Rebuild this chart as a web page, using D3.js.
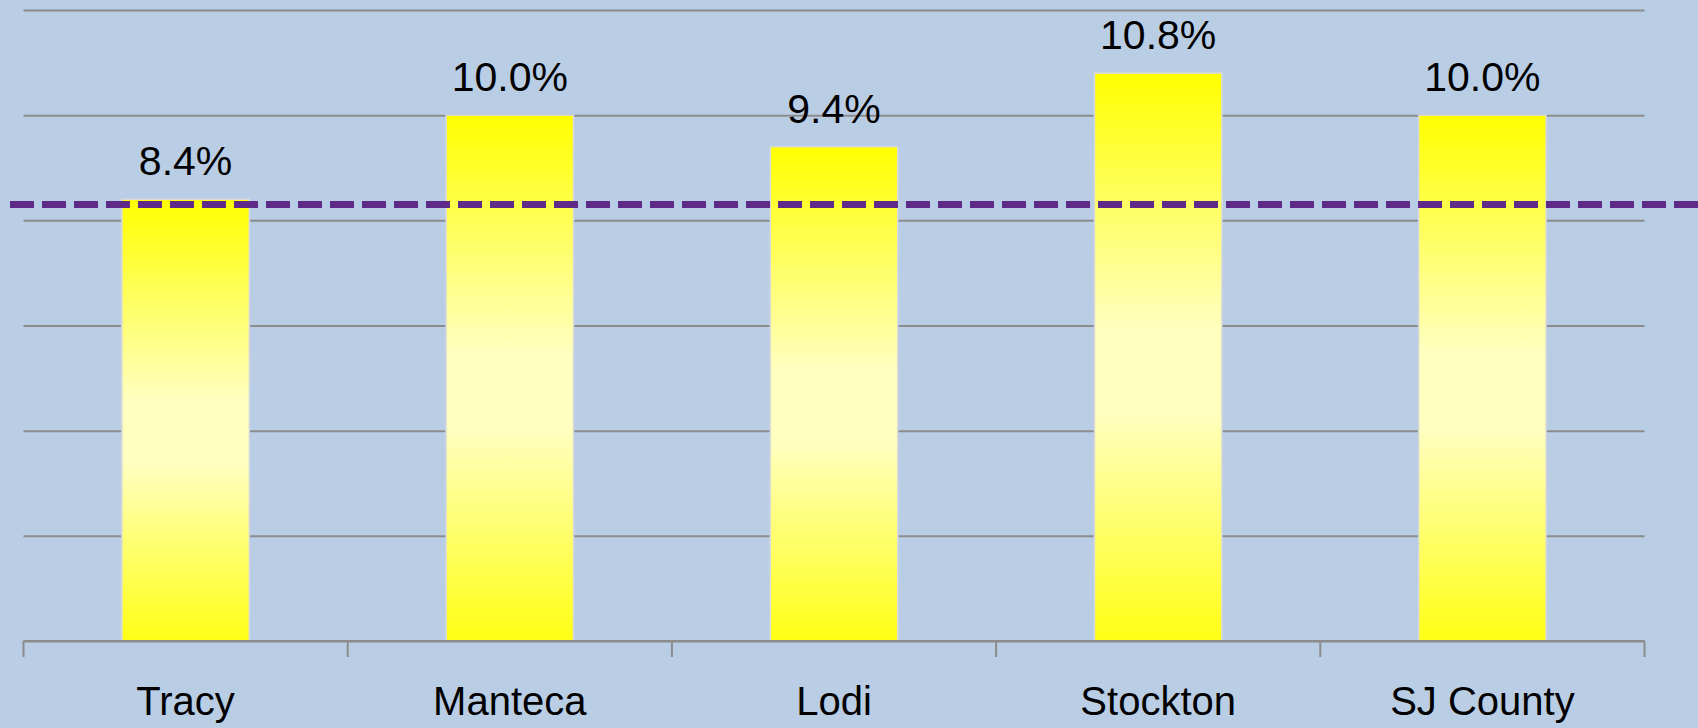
<!DOCTYPE html>
<html>
<head>
<meta charset="utf-8">
<script src="https://cdn.jsdelivr.net/npm/d3@7"></script>
<style>
  html, body { margin: 0; padding: 0; background: #b9cde5; }
  svg { display: block; }
  text { font-family: "Liberation Sans", Arial, sans-serif; fill: #000; }
</style>
</head>
<body>
<svg id="chart" width="1698" height="728"></svg>
<script>
// data
var cities = ['Tracy', 'Manteca', 'Lodi', 'Stockton', 'SJ County']
var rates = [8.4, 10.0, 9.4, 10.8, 10.0]
var yTicks = [0, 2, 4, 6, 8, 10, 12]
var stateRate = 8.3 // dashed reference line

var W = 1698, H = 728
// note: "top" is taken by window.top, so plot edges get their own names
var plotL = 23.5, plotR = 1644.5, plotT = 10, plotB = 641

var svg = d3.select('#chart')

var x = d3.scaleBand().domain(cities).range([plotL, plotR]).padding(0)
var y = d3.scaleLinear().domain([0, 12]).range([plotB, plotT])
var barW = x.bandwidth() * 0.393

// bar gradient: yellow at the ends, pale in the middle
var grad = svg.append('defs').append('linearGradient')
  .attr('id', 'barFill')
  .attr('x1', 0).attr('y1', 0).attr('x2', 0).attr('y2', 1)
grad.append('stop').attr('offset', '0%').attr('stop-color', '#ffff00')
grad.append('stop').attr('offset', '45%').attr('stop-color', '#ffffbf')
grad.append('stop').attr('offset', '60%').attr('stop-color', '#ffffbf')
grad.append('stop').attr('offset', '100%').attr('stop-color', '#ffff14')

// gridlines
var grid = svg.append('g')
  .attr('transform', `translate(${plotL},0)`)
  .call(d3.axisLeft(y).tickValues(yTicks).tickSize(-(plotR - plotL)).tickFormat(''))
grid.select('.domain').remove()
grid.selectAll('.tick line')
  .attr('stroke', '#8c8c8c')
  .attr('stroke-width', 2)

// bars
svg.selectAll('.bar')
  .data(cities)
  .enter().append('rect')
  .attr('class', 'bar')
  .attr('x', d => x(d) + x.bandwidth() / 2 - barW / 2)
  .attr('width', barW)
  .attr('y', (d, i) => y(rates[i]))
  .attr('height', (d, i) => y(0) - y(rates[i]))
  .attr('fill', 'url(#barFill)')
  .attr('stroke', '#d9d9d9')
  .attr('stroke-width', 1.5)

// value labels
svg.selectAll('.val')
  .data(cities)
  .enter().append('text')
  .attr('class', 'val')
  .attr('x', d => x(d) + x.bandwidth() / 2)
  .attr('y', (d, i) => y(rates[i]) - 24)
  .attr('text-anchor', 'middle')
  .style('font-size', '41px')
  .text((d, i) => rates[i].toFixed(1) + '%')

// x axis: line with ticks at band edges, labels at band centres
var xAxis = svg.append('g')
  .attr('transform', `translate(0,${plotB})`)
  .call(d3.axisBottom(x).tickSize(0).tickPadding(46))
xAxis.select('.domain')
  .attr('stroke', '#8c8c8c')
  .attr('stroke-width', 2)
  .attr('d', `M${plotL},0H${plotR}`)
xAxis.selectAll('.tick text')
  .style('font-size', '40px')
  .style('font-family', '"Liberation Sans", Arial, sans-serif')
  .attr('fill', '#000')

var edges = cities.map(d => x(d)).concat([plotR])
xAxis.selectAll('.edge')
  .data(edges)
  .enter().append('line')
  .attr('class', 'edge')
  .attr('x1', d => d).attr('x2', d => d)
  .attr('y1', 0).attr('y2', 16)
  .attr('stroke', '#8c8c8c')
  .attr('stroke-width', 2)

// dashed reference line, runs past the plot to the edge
svg.append('line')
  .attr('x1', 10).attr('x2', W)
  .attr('y1', y(stateRate)).attr('y2', y(stateRate))
  .attr('stroke', '#5f2a88')
  .attr('stroke-width', 7)
  .attr('stroke-dasharray', '24 8')
</script>
</body>
</html>
